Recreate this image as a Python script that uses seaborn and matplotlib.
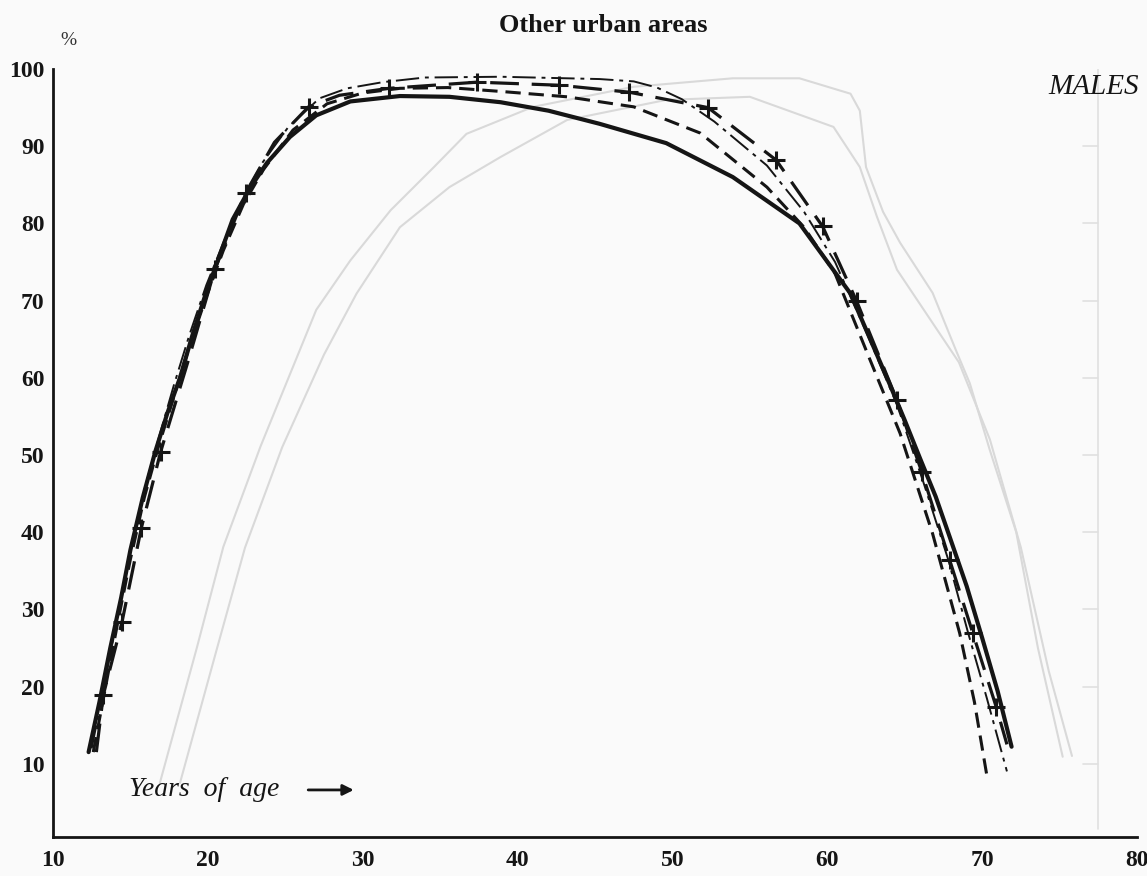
import numpy as np
import pandas as pd
import matplotlib
matplotlib.use("Agg")
import matplotlib.pyplot as plt
import seaborn as sns

# ---- curves: proportion economically active (%) by years of age ----
solid_age = [12.3, 13.0, 13.7, 14.4, 15.0, 15.8, 16.6, 17.4, 18.2, 19.0, 19.8, 20.7,
             21.6, 22.7, 23.8, 25.3, 27.0, 29.2, 32.4, 35.6, 38.9, 42.0, 45.3, 49.6,
             53.9, 58.2, 61.5, 64.0, 65.0, 66.0, 67.0, 67.9, 69.0, 70.0, 71.0, 71.9]
solid_val = [11.5, 18.0, 25.0, 31.5, 37.7, 44.5, 50.4, 55.5, 60.0, 65.5, 70.5, 75.5,
             80.5, 84.5, 87.8, 91.2, 94.0, 95.8, 96.5, 96.4, 95.7, 94.6, 92.9, 90.4,
             86.0, 80.0, 70.9, 59.3, 54.5, 49.5, 44.6, 39.4, 33.0, 26.3, 19.4, 12.2]

dashed_age = [12.6, 13.4, 14.2, 15.0, 15.9, 16.8, 17.8, 18.8, 19.9, 21.0, 22.3, 23.6,
              25.5, 27.7, 30.0, 32.4, 35.5, 38.9, 43.2, 47.5, 51.8, 56.1, 58.5, 60.5,
              62.5, 64.7, 66.8, 68.55, 69.5, 70.3]
dashed_val = [11.5, 20.0, 28.5, 36.5, 44.5, 51.0, 57.5, 64.0, 70.5, 76.5, 82.5, 87.0,
              92.1, 95.5, 96.9, 97.5, 97.6, 97.1, 96.4, 95.1, 91.7, 84.7, 79.5, 73.5,
              63.6, 52.8, 39.8, 26.9, 18.0, 8.5]

cross_age = [12.8, 13.25, 14.45, 15.7, 16.95, 18.7, 20.46, 22.45, 24.3, 26.5, 28.5,
             31.7, 37.4, 42.7, 47.2, 52.3, 56.7, 59.7, 61.9, 64.5, 66.1, 67.9, 69.4,
             70.9, 71.6]
cross_val = [11.5, 18.9, 28.3, 40.5, 50.4, 62.0, 74.1, 84.0, 90.5, 95.1, 96.6,
             97.5, 98.3, 97.9, 97.0, 95.0, 88.2, 79.6, 69.9, 57.1, 47.8, 36.4, 26.9,
             17.4, 12.5]
cross_marked = [False, True, True, True, True, False, True, True, False, True, False,
                True, True, True, True, True, True, True, True, True, True, True, True,
                True, False]

dashdot_age = [12.5, 13.3, 14.1, 15.0, 15.9, 16.8, 17.8, 18.8, 19.9, 21.0, 22.2, 23.5,
               25.2, 27.2, 29.0, 31.3, 34.0, 38.9, 45.3, 47.5, 49.0, 50.6, 52.7, 56.1,
               58.5, 60.5, 62.5, 64.5, 66.2, 67.8, 69.1, 70.3, 71.6]
dashdot_val = [12.0, 20.0, 28.5, 37.5, 45.5, 52.0, 59.0, 65.5, 72.0, 77.5, 83.0, 87.8,
               92.5, 96.2, 97.5, 98.3, 98.9, 99.0, 98.7, 98.4, 97.6, 96.1, 93.2, 87.5,
               81.5, 75.0, 66.0, 56.5, 46.5, 36.5, 26.9, 18.5, 9.0]

# faint curves printed on the reverse of the sheet
rev_a_age = [16.9, 19.3, 21.0, 23.4, 24.7, 27.0, 29.2, 31.8, 34.6, 36.7, 41.0, 47.5,
             53.9, 58.2, 61.5, 62.1, 62.5, 63.6, 64.7, 66.8, 68.3, 69.2, 70.5, 72.2,
             73.6, 75.2]
rev_a_val = [7.5, 25.1, 38.1, 51.1, 57.5, 68.8, 75.2, 81.7, 87.3, 91.6, 95.1, 97.7,
             98.8, 98.8, 96.8, 94.6, 87.3, 81.5, 77.5, 71.0, 63.6, 59.3, 50.6, 40.0,
             25.0, 10.9]
rev_b_age = [18.2, 20.6, 22.4, 24.8, 27.5, 29.6, 32.4, 35.6, 38.9, 43.2, 49.6, 55.0,
             60.4, 62.1, 63.2, 64.5, 66.5, 68.5, 70.5, 72.5, 74.3, 75.8]
rev_b_val = [7.5, 25.0, 38.0, 51.0, 63.0, 70.9, 79.5, 84.7, 88.6, 93.4, 96.0, 96.4,
             92.5, 87.3, 80.9, 74.0, 68.0, 62.0, 52.0, 38.0, 22.0, 11.0]

x_ticks = [10, 20, 30, 40, 50, 60, 70, 80]
y_ticks = [10, 20, 30, 40, 50, 60, 70, 80, 90, 100]

# ---- figure ----
sns.set_theme(style="white")
plt.rcParams["font.family"] = ["Liberation Serif", "DejaVu Serif"]

paper = "#fafafa"
ink = "#151515"
fig = plt.figure(figsize=(11.47, 8.76), dpi=100, facecolor=paper)
ax = fig.add_axes([0.0462, 0.0445, 0.9451, 0.8767])
ax.set_facecolor(paper)

# reverse-side show-through
ghost = "#d9d9d9"
for a, v in [(rev_a_age, rev_a_val), (rev_b_age, rev_b_val)]:
    sns.lineplot(x=a, y=v, ax=ax, color=ghost, linewidth=1.5, sort=False,
                 estimator=None)
sns.lineplot(x=[77.45, 77.45], y=[1.5, 100.8], ax=ax, color="#e0e0e0",
             linewidth=1.2, sort=False, estimator=None)
for t in y_ticks[:-1]:
    ax.plot([76.5, 77.45], [t, t], color="#e0e0e0", lw=1.2)

# main curves
frames = [
    ("solid", solid_age, solid_val),
    ("dashed", dashed_age, dashed_val),
    ("cross", cross_age, cross_val),
    ("dashdot", dashdot_age, dashdot_val),
]
styles = {
    "solid": dict(lw=3.0, dashes=None),
    "dashed": dict(lw=2.2, dashes=(5, 2.6)),
    "cross": dict(lw=2.3, dashes=(9, 4)),
    "dashdot": dict(lw=1.4, dashes=(12, 3, 2, 3)),
}
for name, a, v in frames:
    df = pd.DataFrame({"age": a, "pct": v})
    sns.lineplot(data=df, x="age", y="pct", ax=ax, color=ink,
                 linewidth=styles[name]["lw"], sort=False, estimator=None)
    line = ax.lines[-1]
    if styles[name]["dashes"] is not None:
        line.set_dashes(styles[name]["dashes"])
    line.set_solid_capstyle("round")
    line.set_solid_joinstyle("round")
    line.set_dash_capstyle("butt")

mk = pd.DataFrame({"age": cross_age, "pct": cross_val, "m": cross_marked})
mk = mk[mk["m"]]
sns.scatterplot(data=mk, x="age", y="pct", ax=ax, marker="+", s=150,
                color=ink, linewidth=2.2, zorder=5)

# axes
ax.set_xlim(10, 80)
ax.set_ylim(0.5, 100)
for side in ["top", "right"]:
    ax.spines[side].set_visible(False)
for side in ["left", "bottom"]:
    ax.spines[side].set_color(ink)
    ax.spines[side].set_linewidth(2.0)

ax.set_xticks(x_ticks)
ax.set_xticklabels([str(t) for t in x_ticks])
ax.set_yticks(y_ticks)
ax.set_yticklabels([str(t) for t in y_ticks])
ax.tick_params(axis="both", direction="in", length=11, width=2.0, color=ink,
               labelsize=17, labelcolor=ink)
ax.tick_params(axis="x", pad=9)
ax.tick_params(axis="y", pad=6)
for lab in ax.get_xticklabels() + ax.get_yticklabels():
    lab.set_fontweight("bold")
ax.set_xlabel("")
ax.set_ylabel("")
ax.grid(False)

# annotations
fig.text(0.526, 0.971, "Other urban areas", ha="center", va="center",
         fontsize=19, fontweight="bold", color=ink)
fig.text(0.0595, 0.954, "%", ha="center", va="center", fontsize=14, color="#333333")
fig.text(0.993, 0.901, "MALES", ha="right", va="center", fontsize=21,
         fontstyle="italic", color=ink)
ax.text(14.9, 6.6, "Years  of  age", ha="left", va="center",
        fontsize=20, fontstyle="italic", color=ink)
ax.annotate("", xy=(29.6, 6.6), xytext=(26.3, 6.6),
            arrowprops=dict(arrowstyle="-|>", color=ink, lw=2.0,
                            mutation_scale=16))

fig.savefig("out.png", dpi=100, facecolor=paper)
